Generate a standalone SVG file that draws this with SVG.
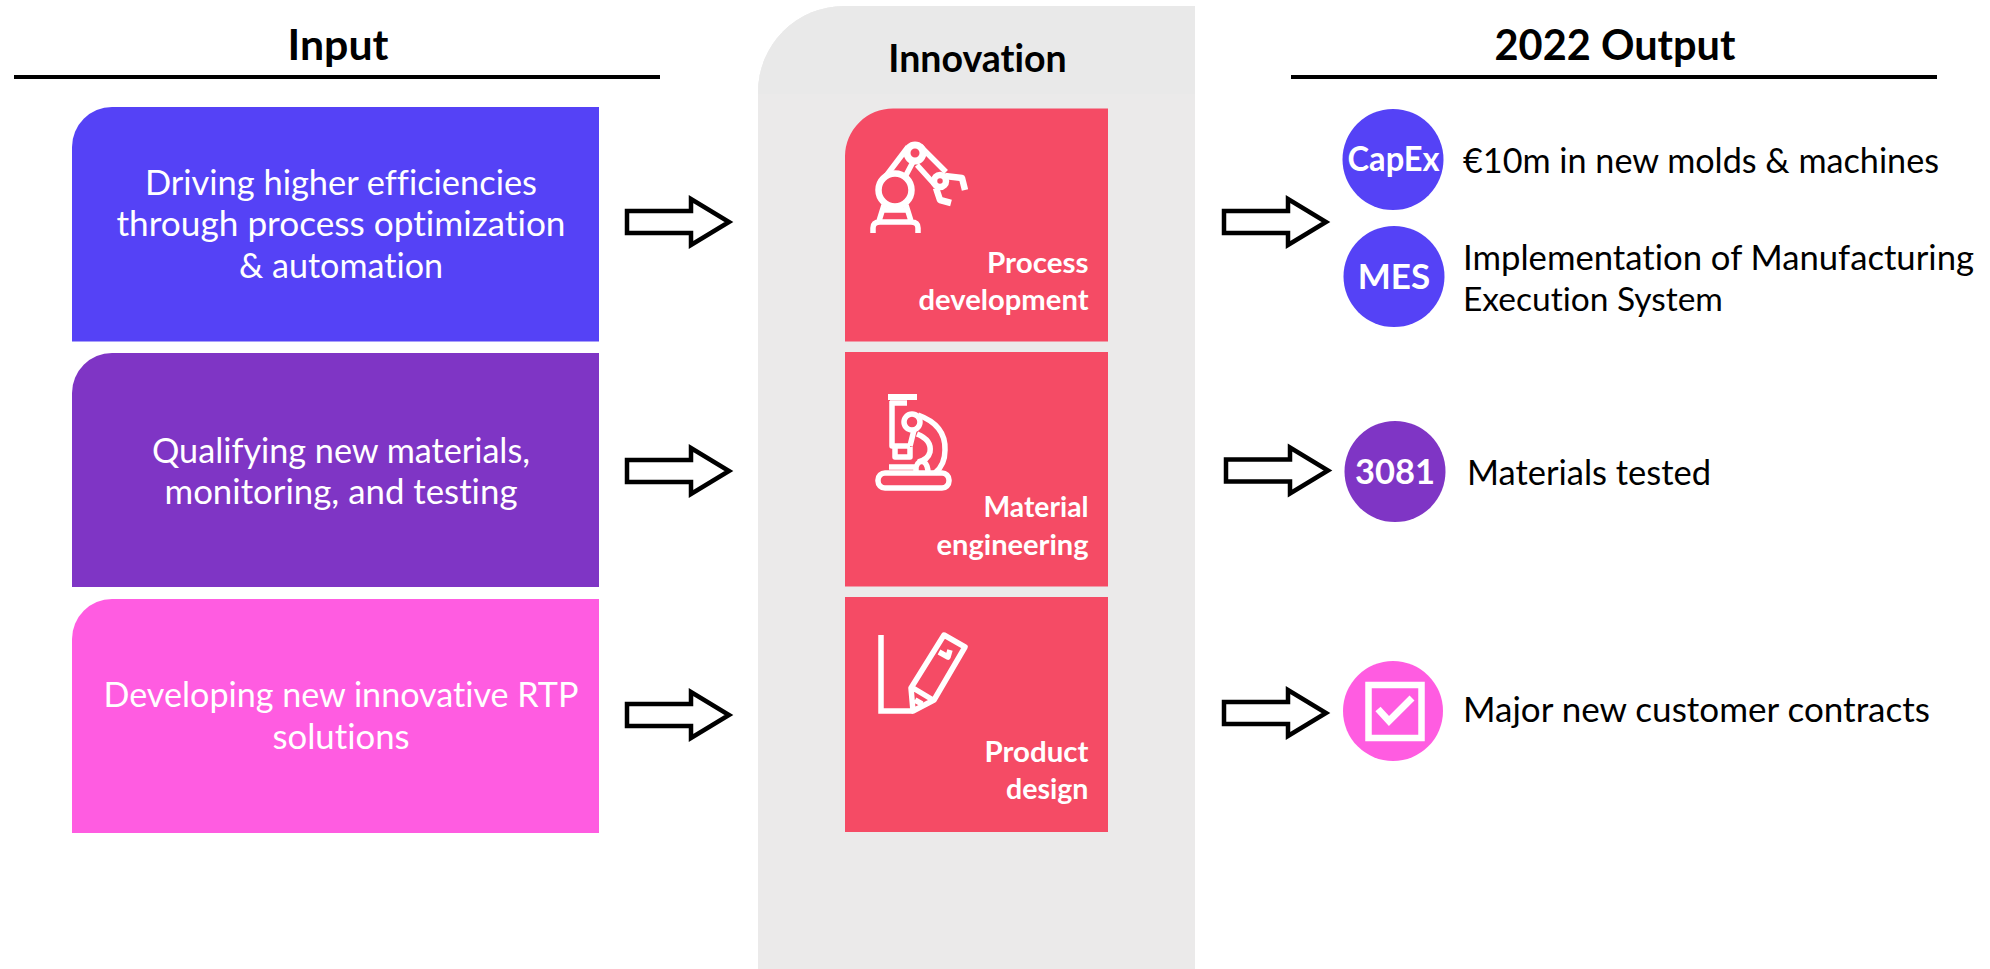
<svg xmlns="http://www.w3.org/2000/svg" width="1990" height="969" viewBox="0 0 1990 969">
<style>
text{font-family:"Lato","Liberation Sans",sans-serif;font-variant-ligatures:none}
.h{font-size:41.5px;font-weight:700;fill:#000;text-anchor:middle}
.t{font-size:35px;fill:#fff;text-anchor:middle}
.o{font-size:34.5px;fill:#000}
.r{font-size:29px;font-weight:700;fill:#fff;text-anchor:end}
.c{font-weight:700;fill:#fff;text-anchor:middle}
.rule{stroke:#000;stroke-width:4;fill:none}
.ar{fill:#fff;stroke:#000;stroke-width:4.5;stroke-miterlimit:8}
.ic{fill:none;stroke:#fff;stroke-width:5.5;stroke-linecap:butt;stroke-linejoin:round}
</style>
<defs>
<path id="arrow" d="M0-11H64V-23L102 0L64 23V11H0Z"/>
</defs>
<rect width="1990" height="969" fill="#fff"/>
<g id="panel">
<path d="M758 969V92A86 86 0 0 1 844 6H1195V969Z" fill="#ebeaea"/>
<path d="M758 94V92A86 86 0 0 1 844 6H1195V94Z" fill="#e9e9e9"/>
<text x="977.500" y="72" font-size="37.500" font-weight="700" text-anchor="middle" fill="#000">Innovation</text>
</g>
<g id="input-head"><text class="h" x="338" y="60" textLength="101" lengthAdjust="spacingAndGlyphs">Input</text><path class="rule" d="M14 77H660"/></g>
<g id="output-head"><text class="h" x="1615" y="60">2022 Output</text><path class="rule" d="M1291 77H1937"/></g>
<g id="input1"><path d="M72 341.500V147A40 40 0 0 1 112 107H599V341.500Z" fill="#5542f6"/>
<text class="t" x="341" y="195" textLength="392" lengthAdjust="spacingAndGlyphs">Driving higher efficiencies</text><text class="t" x="341" y="236" textLength="449" lengthAdjust="spacingAndGlyphs">through process optimization</text><text class="t" x="341" y="278" textLength="204" lengthAdjust="spacingAndGlyphs">&amp; automation</text></g>
<g id="input2"><path d="M72 587V393A40 40 0 0 1 112 353H599V587Z" fill="#7f35c5"/>
<text class="t" x="341" y="463" textLength="378" lengthAdjust="spacingAndGlyphs">Qualifying new materials,</text><text class="t" x="341" y="504" textLength="353" lengthAdjust="spacingAndGlyphs">monitoring, and testing</text></g>
<g id="input3"><path d="M72 833V639A40 40 0 0 1 112 599H599V833Z" fill="#ff5ce1"/>
<text class="t" x="341" y="707" textLength="475" lengthAdjust="spacingAndGlyphs">Developing new innovative RTP</text><text class="t" x="341" y="749" textLength="137" lengthAdjust="spacingAndGlyphs">solutions</text></g>
<g id="process"><path d="M845 341.500V156A48 48 0 0 1 893 108.500H1108V341.500Z" fill="#f54b65"/>
<g class="ic"><circle cx="895" cy="190" r="16.500" stroke-width="6.500"/><circle cx="915" cy="153" r="8" stroke-width="7"/><circle cx="940" cy="181" r="6" stroke-width="6.500"/>
<path d="M886 176L908 147M905 177L914 160M920 146L946 172M917 165L936 186"/><path stroke-width="6.500" d="M945 176L962 178L965 190M936 188L940 200L951 203"/><path d="M884 205L879 221M906 205L911 221M884 210H906M873 233V228Q873 222 880 222H911Q918 222 918 228V233"/></g>
<text class="r" x="1088.500" y="273" textLength="101.500" lengthAdjust="spacingAndGlyphs">Process</text><text class="r" x="1088.500" y="310" textLength="170" lengthAdjust="spacingAndGlyphs">development</text></g>
<g id="material"><rect x="845" y="352" width="263" height="234.500" fill="#f54b65"/>
<g class="ic"><path d="M888 397H917" stroke-width="6"/><path d="M892 401V446H910M907 403H890M895 447V457H910V447M914 430L910 446"/><circle cx="912" cy="422" r="8"/>
<path d="M918 415Q946 425 945 450Q945 465 935 473M917 434Q932 440 930 452Q928 460 918 462"/><rect x="878" y="473" width="71" height="15" rx="7"/><path d="M889 467H916M916 473V467Q918 460 924 462Q928 465 928 473"/></g>
<text class="r" x="1088.500" y="517" textLength="105" lengthAdjust="spacingAndGlyphs">Material</text><text class="r" x="1088.500" y="555" textLength="152" lengthAdjust="spacingAndGlyphs">engineering</text></g>
<g id="product"><rect x="845" y="597" width="263" height="235" fill="#f54b65"/>
<g class="ic"><path d="M881 635V711H913" stroke-linejoin="miter"/><path d="M944 635L965 647L934 700L913 711L911 688ZM913 688L933 700M915 700L922 704M939 652L948 657L950 650"/></g>
<text class="r" x="1088.500" y="762" textLength="104" lengthAdjust="spacingAndGlyphs">Product</text><text class="r" x="1088.500" y="799" textLength="82.500" lengthAdjust="spacingAndGlyphs">design</text></g>
<g id="capex"><circle cx="1393" cy="159.500" r="50.500" fill="#5542f6"/><text class="c" x="1393.500" y="171" font-size="33.500" textLength="92" lengthAdjust="spacingAndGlyphs">CapEx</text><text class="o" x="1463" y="173" textLength="476" lengthAdjust="spacingAndGlyphs">€10m in new molds &amp; machines</text></g>
<g id="mes"><circle cx="1394" cy="276.500" r="50.500" fill="#5542f6"/><text class="c" x="1394" y="289" font-size="35">MES</text><text class="o" x="1463" y="270" textLength="511" lengthAdjust="spacingAndGlyphs">Implementation of Manufacturing</text><text class="o" x="1463" y="311" style="font-size:33.500px">Execution System</text></g>
<g id="materials"><circle cx="1395" cy="471.500" r="50.500" fill="#7f35c5"/><text class="c" x="1395" y="484" font-size="34.500">3081</text><text class="o" x="1467" y="485" textLength="244" lengthAdjust="spacingAndGlyphs">Materials tested</text></g>
<g id="contracts"><circle cx="1393" cy="711" r="50" fill="#ff5ce1"/>
<rect x="1368.500" y="685" width="53" height="53" fill="none" stroke="#fff" stroke-width="6.500"/><path d="M1378 709L1389 721L1412 698" fill="none" stroke="#fff" stroke-width="7"/><text class="o" x="1463" y="722" textLength="467" lengthAdjust="spacingAndGlyphs">Major new customer contracts</text></g>
<g id="connectors">
<use href="#arrow" class="ar" x="627" y="222"/><use href="#arrow" class="ar" x="627" y="471"/><use href="#arrow" class="ar" x="627" y="715"/>
<use href="#arrow" class="ar" x="1224" y="222"/><use href="#arrow" class="ar" x="1226" y="470.500"/><use href="#arrow" class="ar" x="1224" y="713"/>
</g>
</svg>
